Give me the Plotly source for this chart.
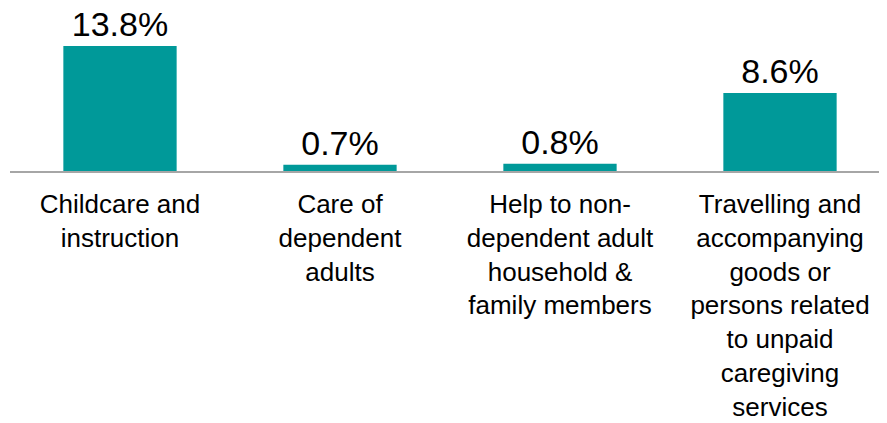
import plotly.graph_objects as go

categories = [
    "Childcare and<br>instruction",
    "Care of<br>dependent<br>adults",
    "Help to non-<br>dependent adult<br>household &<br>family members",
    "Travelling and<br>accompanying<br>goods or<br>persons related<br>to unpaid<br>caregiving<br>services",
]
values = [13.8, 0.7, 0.8, 8.6]
labels = ["13.8%", "0.7%", "0.8%", "8.6%"]

fig = go.Figure(
    go.Bar(
        x=list(range(len(categories))),
        y=values,
        text=labels,
        textposition="outside",
        textfont=dict(family="Liberation Sans, Arial", size=34, color="#000000"),
        marker=dict(color="#009999", line=dict(width=0)),
        cliponaxis=False,
    )
)

fig.update_layout(
    width=887,
    height=423,
    margin=dict(l=2, r=5, t=0, b=260, autoexpand=False),
    paper_bgcolor="white",
    plot_bgcolor="white",
    bargap=0.485,
    showlegend=False,
    xaxis=dict(
        tickmode="array",
        tickvals=list(range(len(categories))),
        ticktext=categories,
        tickfont=dict(family="Liberation Sans, Arial", size=26, color="#000000"),
        showline=True,
        linecolor="#A6A6A6",
        linewidth=1.5,
        ticks="",
        showgrid=False,
        zeroline=False,
        range=[-0.5, 3.5],
        ticklabelstandoff=9,
        automargin=False,
    ),
    yaxis=dict(
        range=[0, 18.0],
        visible=False,
        showgrid=False,
        zeroline=False,
        automargin=False,
    ),
)

fig.write_html("out.html")
